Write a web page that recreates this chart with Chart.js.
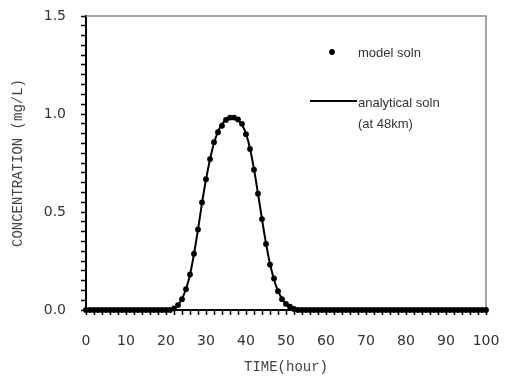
<!DOCTYPE html>
<html>
<head>
<meta charset="utf-8">
<script src="https://cdn.jsdelivr.net/npm/chart.js@4/dist/chart.umd.min.js"></script>
<style>
html, body { margin: 0; padding: 0; background: #fff; }
#wrap { width: 507px; height: 380px; }
</style>
</head>
<body>
<div id="wrap"><canvas id="myChart" width="507" height="380"></canvas></div>
<script>
/* 데이터 */
// model soln : 1시간 간격
const modelTime = [
	0, 1, 2, 3, 4, 5, 6, 7, 8, 9, 10, 11, 12, 13, 14, 15, 16, 17, 18, 19,
	20, 21, 22, 23, 24, 25, 26, 27, 28, 29, 30, 31, 32, 33, 34, 35, 36, 37, 38, 39,
	40, 41, 42, 43, 44, 45, 46, 47, 48, 49, 50, 51, 52, 53, 54, 55, 56, 57, 58, 59,
	60, 61, 62, 63, 64, 65, 66, 67, 68, 69, 70, 71, 72, 73, 74, 75, 76, 77, 78, 79,
	80, 81, 82, 83, 84, 85, 86, 87, 88, 89, 90, 91, 92, 93, 94, 95, 96, 97, 98, 99, 100
];
const modelConc = [
	0, 0, 0, 0, 0, 0, 0, 0, 0, 0, 0, 0, 0, 0, 0, 0, 0, 0, 0, 0,
	0, 0, 0.008, 0.025, 0.055, 0.106, 0.181, 0.287, 0.411, 0.549, 0.667, 0.770, 0.856, 0.907, 0.940, 0.970, 0.982, 0.982, 0.972, 0.950,
	0.897, 0.822, 0.716, 0.593, 0.464, 0.337, 0.232, 0.161, 0.096, 0.055, 0.031, 0.017, 0.005, 0, 0, 0, 0, 0, 0, 0,
	0, 0, 0, 0, 0, 0, 0, 0, 0, 0, 0, 0, 0, 0, 0, 0, 0, 0, 0, 0,
	0, 0, 0, 0, 0, 0, 0, 0, 0, 0, 0, 0, 0, 0, 0, 0, 0, 0, 0, 0, 0
];

// analytical soln (at 48km)
const analyticalTime = [
	0, 10, 20, 21, 22, 23, 24, 25, 26, 27, 28, 29, 30, 31, 32, 33, 34, 35, 36, 37,
	38, 39, 40, 41, 42, 43, 44, 45, 46, 47, 48, 49, 50, 51, 52, 53, 54, 60, 80, 100
];
const analyticalConc = [
	0, 0, 0, 0.002, 0.009, 0.026, 0.057, 0.107, 0.180, 0.286, 0.410, 0.545, 0.666, 0.768, 0.852, 0.910, 0.947, 0.972, 0.983, 0.982,
	0.970, 0.945, 0.899, 0.824, 0.718, 0.594, 0.463, 0.340, 0.236, 0.156, 0.097, 0.057, 0.031, 0.016, 0.007, 0.002, 0, 0, 0, 0
];

// 눈금 라벨
const xTickLabels = [0, 10, 20, 30, 40, 50, 60, 70, 80, 90, 100];
const yTickLabels = [0.0, 0.5, 1.0, 1.5];

const legendText = ["model soln", "analytical soln", "(at 48km)"];


// 위, 오른쪽 테두리 (회색)
const framePlugin = {
	id: "frame",
	beforeDatasetsDraw(chart) {
		const { ctx, chartArea: a } = chart;
		ctx.save();
		ctx.strokeStyle = "#8a8a8a";
		ctx.lineWidth = 1.5;
		ctx.beginPath();
		ctx.moveTo(a.left, a.top);
		ctx.lineTo(a.right, a.top);
		ctx.lineTo(a.right, a.bottom);
		ctx.stroke();
		ctx.restore();
	}
};

// 범례 (차트 안쪽 오른쪽 위)
const legendPlugin = {
	id: "innerLegend",
	afterDraw(chart) {
		const { ctx, chartArea: a } = chart;
		const x = a.left + 272;
		ctx.save();
		ctx.fillStyle = "#000";
		ctx.beginPath();
		ctx.arc(a.left + 246, a.top + 36, 2.9, 0, Math.PI * 2);
		ctx.fill();

		ctx.strokeStyle = "#000";
		ctx.lineWidth = 2;
		ctx.beginPath();
		ctx.moveTo(a.left + 224, a.top + 85);
		ctx.lineTo(a.left + 271, a.top + 85);
		ctx.stroke();

		ctx.font = "13px 'Liberation Sans', Arial, sans-serif";
		ctx.fillStyle = "#333";
		ctx.textBaseline = "middle";
		ctx.fillText(legendText[0], x, a.top + 37);
		ctx.fillText(legendText[1], x, a.top + 87);
		ctx.fillText(legendText[2], x, a.top + 108);
		ctx.restore();
	}
};


var ctx = document.getElementById("myChart");

var config = {
	type: "scatter",
	data: {
		datasets: [{
			label: "model soln",
			data: modelTime.map((t, i) => ({ x: t, y: modelConc[i] })),
			showLine: false,
			pointRadius: 2.9,
			pointHoverRadius: 2.9,
			pointBackgroundColor: "#000",
			pointBorderWidth: 0,
			borderColor: "#000",
			clip: false
		}, {
			label: "analytical soln (at 48km)",
			data: analyticalTime.map((t, i) => ({ x: t, y: analyticalConc[i] })),
			showLine: true,
			pointRadius: 0,
			borderColor: "#000",
			borderWidth: 2,
			cubicInterpolationMode: "monotone",
			clip: false
		}]
	},
	options: {
		responsive: false,
		animation: false,
		devicePixelRatio: 1,
		layout: { padding: { left: 0, top: 16, right: 21, bottom: 0 } },
		plugins: {
			legend: { display: false },
			tooltip: { enabled: false }
		},
		scales: {
			x: {
				type: "linear",
				min: 0,
				max: 100,
				// 눈금 라벨 때문에 생기는 여백 제거
				afterFit: (scale) => {
					scale.height = 70;
					scale.paddingLeft = 0;
					scale.paddingRight = 0;
				},
				ticks: {
					stepSize: 2,
					autoSkip: false,
					maxRotation: 0,
					padding: 18,
					color: "#333",
					font: { family: "'DejaVu Sans', sans-serif", size: 14 },
					callback: (v) => xTickLabels.includes(v) ? String(v) : ""
				},
				grid: {
					drawOnChartArea: false,
					tickLength: 5,
					tickWidth: 1.5,
					tickColor: "#000"
				},
				border: { color: "#000", width: 2 },
				title: {
					display: true,
					text: "TIME(hour)",
					color: "#444",
					font: { family: "'Liberation Mono', monospace", size: 14 },
					padding: { top: 0, bottom: 4 }
				}
			},
			y: {
				type: "linear",
				min: 0,
				max: 1.5,
				afterFit: (scale) => {
					scale.width = 86;
					scale.paddingTop = 0;
					scale.paddingBottom = 0;
				},
				ticks: {
					stepSize: 0.05,
					autoSkip: false,
					padding: 15,
					color: "#333",
					font: { family: "'DejaVu Sans', sans-serif", size: 14 },
					callback: (v) => {
						const hit = yTickLabels.find((t) => Math.abs(t - v) < 1e-6);
						return hit === undefined ? "" : hit.toFixed(1);
					}
				},
				grid: {
					drawOnChartArea: false,
					tickLength: 5,
					tickWidth: 1.5,
					tickColor: "#000"
				},
				border: { color: "#000", width: 2 },
				title: {
					display: true,
					text: "CONCENTRATION (mg/L)",
					color: "#444",
					font: { family: "'Liberation Mono', monospace", size: 14 },
					padding: { top: 10, bottom: 0 }
				}
			}
		}
	},
	plugins: [framePlugin, legendPlugin]
};

//  chart 생성
var myChart = new Chart(ctx, config);
</script>
</body>
</html>
